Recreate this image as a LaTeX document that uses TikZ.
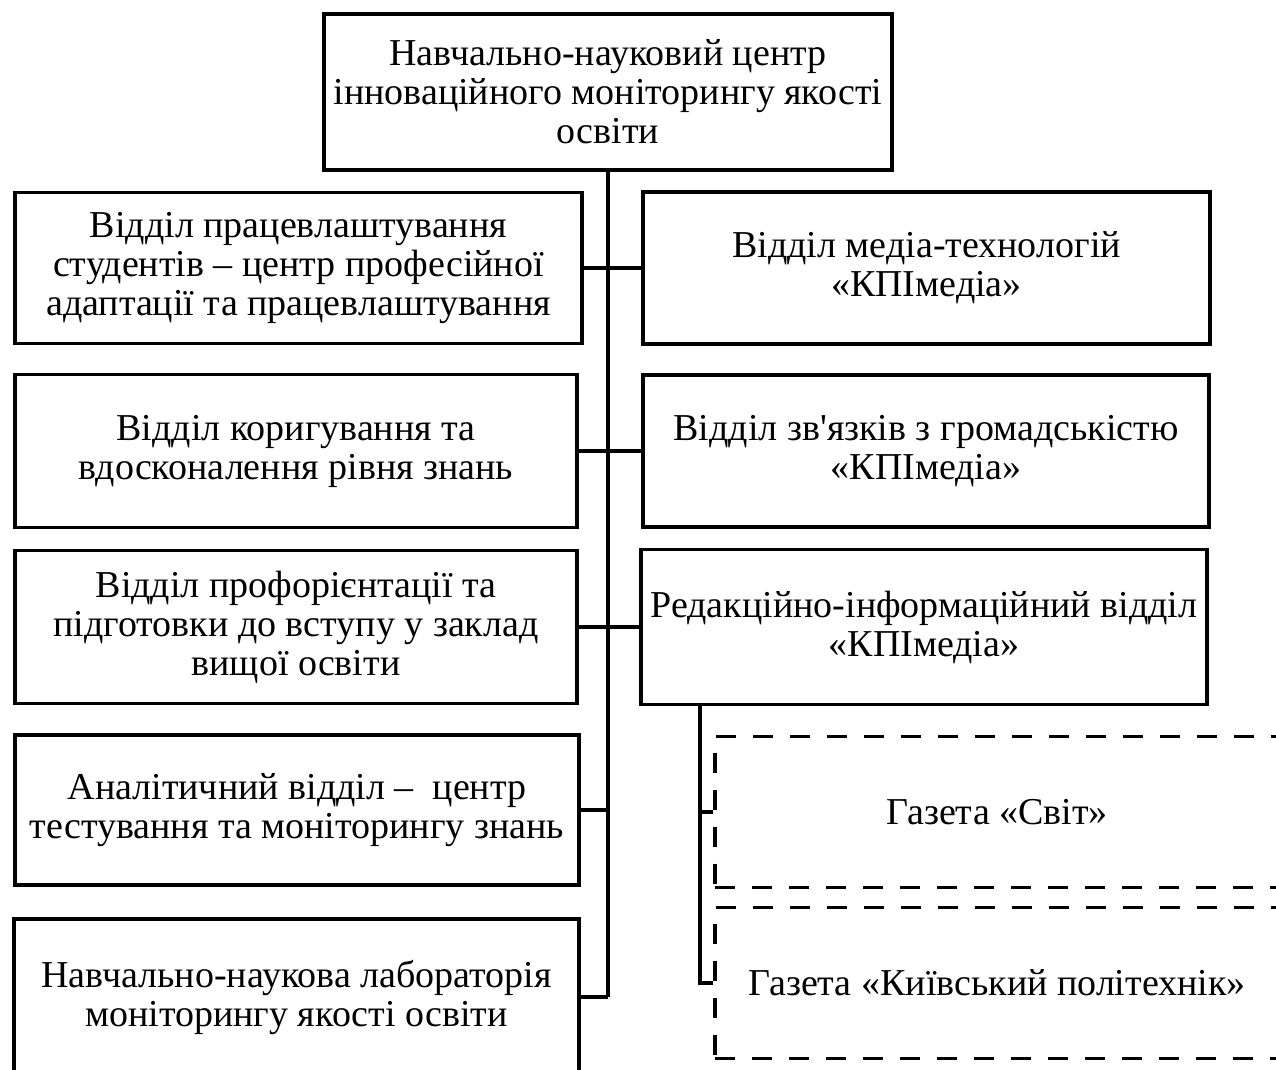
\documentclass[tikz,border=0pt]{standalone}
\usepackage{fontspec}
\setmainfont{Liberation Serif}
\begin{document}
\begin{tikzpicture}[x=0.5pt,y=-0.5pt,
  box/.style={draw=black,line width=1.9pt,align=center,inner sep=0pt,
    font=\fontsize{19}{19.5}\selectfont},
  dbox/.style={box,dash pattern=on 10pt off 8.5pt},
  conn/.style={line width=1.9pt}]
\useasboundingbox (0,0) rectangle (1276,1070);
\fill[white] (0,0) rectangle (1276,1070);
\node[box,minimum width=284pt,minimum height=78pt] (top) at (608,92)
  {Навчально-науковий центр\\інноваційного моніторингу якості\\освіти};
\node[box,minimum width=283.5pt,minimum height=75.5pt] (L1) at (298.5,268)
  {Відділ працевлаштування\\студентів – центр професійної\\адаптації та працевлаштування};
\node[box,minimum width=281pt,minimum height=76.5pt] (L2) at (296,451)
  {Відділ коригування та\\вдосконалення рівня знань};
\node[box,minimum width=281pt,minimum height=76.5pt] (L3) at (296,627)
  {Відділ профорієнтації та\\підготовки до вступу у заклад\\вищої освіти};
\node[box,minimum width=282pt,minimum height=75pt] (L4) at (297,810)
  {Аналітичний відділ –\ \ центр\\тестування та моніторингу знань};
\node[box,minimum width=282.5pt,minimum height=78pt] (L5) at (296.5,997)
  {Навчально-наукова лабораторія\\моніторингу якості освіти};
\node[box,minimum width=283.5pt,minimum height=76pt] (R1) at (926.5,268)
  {Відділ медіа-технологій\\«КПІмедіа»};
\node[box,minimum width=283pt,minimum height=76pt] (R2) at (926,451)
  {Відділ зв\textquotesingle язків з громадськістю\\«КПІмедіа»};
\node[box,minimum width=283pt,minimum height=77.5pt] (R3) at (924,627)
  {Редакційно-інформаційний відділ\\«КПІмедіа»};
\node[dbox,minimum width=282pt,minimum height=75.5pt] (D1) at (997,812)
  {Газета «Світ»};
\node[dbox,minimum width=282pt,minimum height=75.5pt] (D2) at (997,983)
  {Газета «Київський політехнік»};
\coordinate (sp) at (608,997);
\coordinate (s2) at (700,704);
\draw[conn] (top.south) -- (sp);
\draw[conn] (L1) -- (R1);
\draw[conn] (L2) -- (R2);
\draw[conn] (L3) -- (R3);
\draw[conn] (L4.east) -- (L4.east -| sp);
\draw[conn] (L5.east) -- (sp);
\draw[conn] (R3.south -| s2) -- (s2 |- D2.west) -- (D2.west);
\draw[conn] (s2 |- D1.west) -- (D1.west);
\end{tikzpicture}
\end{document}
